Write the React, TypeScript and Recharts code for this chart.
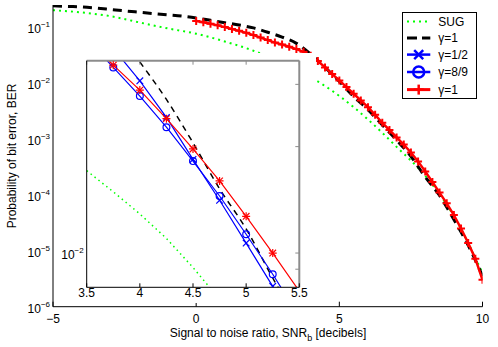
import React from 'react';
import { LineChart, Line, XAxis, YAxis, Legend, ReferenceLine } from 'recharts';

const FONT = '"Liberation Sans", Arial, Helvetica, sans-serif';

// ---- main plot (SNR in dB -> BER) ----
const sugSnr = [-5, -4, -3, -2, -1, 0, 1, 2, 3, 4, 5, 6, 7, 8, 9, 10];
const sugBer = [0.2014, 0.1841, 0.158, 0.1225, 0.0955, 0.0767, 0.0556, 0.038, 0.0229, 0.01274, 0.00589, 0.00224, 7.24e-4, 2.19e-4, 4.17e-5, 3.98e-6];

const refSnr = [-5, -4.5, -4, -3.5, -3, -2.5, -2, -1.5, -1, -0.5, 0, 0.5, 1, 1.5, 2, 2.5, 3, 3.5, 4, 4.5, 5, 5.5, 6, 6.5, 7, 7.5, 8, 8.5, 9, 9.5, 10];
const refBer = [0.2427, 0.236, 0.2307, 0.2203, 0.208, 0.1963, 0.1858, 0.1758, 0.1667, 0.1585, 0.1466, 0.133, 0.1205, 0.1096, 0.0973, 0.0813, 0.0668, 0.0515, 0.0328, 0.0191, 0.0107, 0.00575, 0.00335, 0.00178, 9.55e-4, 4.9e-4, 2.09e-4, 9.77e-5, 3.63e-5, 1.26e-5, 3.55e-6];

const g1Snr = [0, 0.25, 0.5, 0.75, 1, 1.25, 1.5, 1.75, 2, 2.25, 2.5, 2.75, 3, 3.25, 3.5, 3.75, 4, 4.25, 4.5, 4.75, 5, 5.25, 5.5, 5.75, 6, 6.25, 6.5, 6.75, 7, 7.25, 7.5, 7.75, 8, 8.25, 8.5, 8.75, 9, 9.25, 9.5, 9.75, 10];
const g1Ber = [0.1294, 0.1225, 0.1153, 0.1081, 0.1005, 0.0933, 0.0861, 0.0794, 0.0724, 0.0653, 0.0589, 0.0531, 0.049, 0.0447, 0.0407, 0.0363, 0.0309, 0.0248, 0.0191, 0.0145, 0.0112, 0.00851, 0.00646, 0.0049, 0.00372, 0.00272, 0.00195, 0.00145, 0.00107, 7.94e-4, 5.75e-4, 3.98e-4, 2.63e-4, 1.7e-4, 1.1e-4, 7.08e-5, 4.37e-5, 2.51e-5, 1.38e-5, 7.24e-6, 3.02e-6];

// ---- inset ----
const inSugSnr = [3.5, 3.75, 4, 4.25, 4.5, 4.75];
const inSugBer = [0.0171, 0.0149, 0.0129, 0.011, 0.0091, 0.0074];
const inRefSnr = [3.75, 4, 4.25, 4.5, 4.75, 5, 5.25, 5.5];
const inRefBer = [0.0437, 0.0347, 0.0272, 0.0205, 0.0152, 0.0117, 0.0085, 0.0063];
const inSnr = [3.5, 3.75, 4, 4.25, 4.5, 4.75, 5, 5.25, 5.5];
const inHalfBer = [0.049, 0.0379, 0.0307, 0.0242, 0.0184, 0.0141, 0.01067, 0.00805, 0.0059];
const inEightNinthBer = [0.0404, 0.0335, 0.0278, 0.0227, 0.0182, 0.0145, 0.0113, 0.00871, 0.0066];
const inOneBer = [0.04, 0.034, 0.0289, 0.024, 0.0197, 0.016, 0.0127, 0.01, 0.0078];

const mainXTicks = [-5, 0, 5, 10];
const mainYDecades = [1e-6, 1e-5, 1e-4, 1e-3, 1e-2, 1e-1];
const mainXDomain = [-5, 10];
const mainYDomain = [1e-6, 0.25];
const insetXTicks = [3.5, 4, 4.5, 5, 5.5];
const insetYTicks = [0.009, 0.01, 0.02, 0.03];
const insetXDomain = [3.5, 5.5];
const insetYDomain = [0.008, 0.035];

const mainYTicks = mainYDecades
  .flatMap((d) => [1, 2, 3, 4, 5, 6, 7, 8, 9].map((m) => m * d))
  .filter((v) => v <= mainYDomain[1]);

const zip = (xs: number[], ys: number[]) => xs.map((snr, i) => ({ snr, ber: ys[i] }));

const isDecade = (v: number) => Math.abs(Math.log10(v) - Math.round(Math.log10(v))) < 1e-6;
const expLabel = (v: number) => {
  const e = Math.round(Math.log10(v));
  return e < 0 ? '\u2212' + -e : String(e);
};
const numLabel = (v: number) => (v < 0 ? '\u2212' + -v : String(v));

const LeftTick = (p: any) => {
  const { x, y, payload, big = 5, small = 3, stroke = '#000' } = p;
  const dec = isDecade(payload.value);
  return (
    <g>
      <line x1={x} x2={x + (dec ? big : small)} y1={y} y2={y} stroke={stroke} />
      {dec && (
        <text x={x - 3} y={y + 6} textAnchor="end" fontSize={12} fontFamily={FONT} fill="#000">
          10<tspan dy={-6} fontSize={8}>{expLabel(payload.value)}</tspan>
        </text>
      )}
    </g>
  );
};

const RightTick = (p: any) => {
  const { x, y, payload, big = 5, small = 3, stroke = '#000' } = p;
  const dec = isDecade(payload.value);
  return <line x1={x} x2={x - (dec ? big : small)} y1={y} y2={y} stroke={stroke} />;
};

const BottomTick = (p: any) => {
  const { x, y, payload, len = 5, dy = 16 } = p;
  return (
    <g>
      <line x1={x} x2={x} y1={y} y2={y - len} stroke="#000" />
      <text x={x} y={y + dy} textAnchor="middle" fontSize={12} fontFamily={FONT} fill="#000">
        {numLabel(payload.value)}
      </text>
    </g>
  );
};

const TopTick = (p: any) => {
  const { x, y, len = 5, stroke = '#000' } = p;
  return <line x1={x} x2={x} y1={y} y2={y + len} stroke={stroke} />;
};

// inset frame (top and right edges are grey with inward ticks)
const GREY = '#8c8c8c';
const InsetTopEdge = (p: any) => {
  const xa = Math.min(p.x1, p.x2);
  const xb = Math.max(p.x1, p.x2);
  const y = p.y1;
  return (
    <g>
      <line x1={xa} x2={xb} y1={y} y2={y} stroke={GREY} strokeWidth={2} />
      {insetXTicks.map((t) => {
        const x = xa + ((t - insetXDomain[0]) / (insetXDomain[1] - insetXDomain[0])) * (xb - xa);
        return <line key={t} x1={x} x2={x} y1={y} y2={y + 4} stroke={GREY} />;
      })}
    </g>
  );
};
const InsetRightEdge = (p: any) => {
  const ya = Math.min(p.y1, p.y2);
  const yb = Math.max(p.y1, p.y2);
  const x = p.x1;
  const lt = Math.log10(insetYDomain[1]);
  const lb = Math.log10(insetYDomain[0]);
  return (
    <g>
      <line x1={x} x2={x} y1={ya} y2={yb} stroke={GREY} strokeWidth={2} />
      {insetYTicks.map((t) => {
        const y = ya + ((lt - Math.log10(t)) / (lt - lb)) * (yb - ya);
        return <line key={t} x1={x} x2={x - 4} y1={y} y2={y} stroke={GREY} />;
      })}
    </g>
  );
};

const XTitle = () => (
  <text x={268} y={337} textAnchor="middle" fontSize={12} fontFamily={FONT} fill="#000">
    Signal to noise ratio, SNR<tspan dy={4} fontSize={9}>b</tspan>
    <tspan dy={-4}> [decibels]</tspan>
  </text>
);

const YTitle = () => (
  <text
    x={12}
    y={156}
    transform="rotate(-90 12 156)"
    textAnchor="middle"
    dominantBaseline="central"
    fontSize={12}
    fontFamily={FONT}
    fill="#000"
  >
    Probability of bit error, BER
  </text>
);

const inInset = (snr: number, ber: number) =>
  snr >= insetXDomain[0] && snr <= insetXDomain[1] && ber >= insetYDomain[0] && ber <= insetYDomain[1];

const plusDot = (h: number, color: string, sw: number) => (p: any) => {
  const { cx, cy, index } = p;
  if (cx == null || cy == null) return <g key={index} />;
  return (
    <g key={index}>
      <line x1={cx - h} x2={cx + h} y1={cy} y2={cy} stroke={color} strokeWidth={sw} />
      <line x1={cx} x2={cx} y1={cy - h} y2={cy + h} stroke={color} strokeWidth={sw} />
    </g>
  );
};

const insetDot = (kind: 'x' | 'o' | '*', color: string) => (p: any) => {
  const { cx, cy, index, payload } = p;
  if (cx == null || cy == null || !inInset(payload.snr, payload.ber)) return <g key={index} />;
  const h = 3.3;
  if (kind === 'o') return <circle key={index} cx={cx} cy={cy} r={3.4} fill="none" stroke={color} strokeWidth={1.2} />;
  const cross = (
    <>
      <line x1={cx - h} x2={cx + h} y1={cy - h} y2={cy + h} stroke={color} strokeWidth={1.2} />
      <line x1={cx - h} x2={cx + h} y1={cy + h} y2={cy - h} stroke={color} strokeWidth={1.2} />
    </>
  );
  if (kind === 'x') return <g key={index}>{cross}</g>;
  return (
    <g key={index}>
      {cross}
      <line x1={cx - 4} x2={cx + 4} y1={cy} y2={cy} stroke={color} strokeWidth={1.2} />
      <line x1={cx} x2={cx} y1={cy - 4} y2={cy + 4} stroke={color} strokeWidth={1.2} />
    </g>
  );
};

const legendRows = [
  { label: 'SUG', color: '#00ff00', dash: '2 4', w: 2, marker: '' },
  { label: '\u03b3=1', color: '#000', dash: '10 5', w: 3, marker: '' },
  { label: '\u03b3=1/2', color: '#0000ff', dash: '', w: 2.5, marker: 'x' },
  { label: '\u03b3=8/9', color: '#0000ff', dash: '', w: 2.5, marker: 'o' },
  { label: '\u03b3=1', color: '#ff0000', dash: '', w: 3, marker: '+' },
];
const legendRowY = [9.6, 26, 42.6, 60, 77.6];

const LegendBox = () => (
  <svg width={75} height={87} style={{ display: 'block' }}>
    <rect x={0.5} y={0.5} width={74} height={86} fill="#fff" stroke="#000" />
    {legendRows.map((r, i) => {
      const y = legendRowY[i];
      const mx = 16.7;
      return (
        <g key={i}>
          <line x1={5} x2={28.3} y1={y} y2={y} stroke={r.color} strokeWidth={r.w} strokeDasharray={r.dash || undefined} />
          {r.marker === 'x' && (
            <g stroke={r.color} strokeWidth={2.5}>
              <line x1={mx - 4.5} x2={mx + 4.5} y1={y - 4.5} y2={y + 4.5} />
              <line x1={mx - 4.5} x2={mx + 4.5} y1={y + 4.5} y2={y - 4.5} />
            </g>
          )}
          {r.marker === 'o' && <circle cx={mx} cy={y} r={5.5} fill="none" stroke={r.color} strokeWidth={2.5} />}
          {r.marker === '+' && (
            <g stroke={r.color} strokeWidth={2.5}>
              <line x1={mx - 5} x2={mx + 5} y1={y} y2={y} />
              <line x1={mx} x2={mx} y1={y - 5} y2={y + 5} />
            </g>
          )}
          <text x={36.3} y={y + 4.3} fontSize={12} fontFamily={FONT} fill="#000">
            {r.label}
          </text>
        </g>
      );
    })}
  </svg>
);

export default function App() {
  return (
    <div style={{ position: 'absolute', left: 0, top: 0, width: 498, height: 347, background: '#fff' }}>
      <LineChart width={498} height={347} margin={{ top: 5, right: 15.5, bottom: 0, left: 0 }}>
        <XAxis
          xAxisId="b"
          type="number"
          dataKey="snr"
          domain={mainXDomain}
          ticks={mainXTicks}
          interval={0}
          allowDataOverflow
          height={40.3}
          tickSize={0}
          tickMargin={0}
          tickLine={false}
          axisLine={{ stroke: '#000' }}
          tick={<BottomTick />}
          label={<XTitle />}
        />
        <XAxis
          xAxisId="t"
          orientation="top"
          type="number"
          dataKey="snr"
          domain={mainXDomain}
          ticks={mainXTicks}
          interval={0}
          allowDataOverflow
          height={0}
          tickSize={0}
          tickMargin={0}
          tickLine={false}
          axisLine={{ stroke: '#000' }}
          tick={<TopTick stroke="#666" />}
        />
        <YAxis
          yAxisId="l"
          type="number"
          scale="log"
          dataKey="ber"
          domain={mainYDomain}
          ticks={mainYTicks}
          interval={0}
          allowDataOverflow
          width={53}
          tickSize={0}
          tickMargin={0}
          tickLine={false}
          axisLine={{ stroke: '#000' }}
          tick={<LeftTick />}
          label={<YTitle />}
        />
        <YAxis
          yAxisId="r"
          orientation="right"
          type="number"
          scale="log"
          dataKey="ber"
          domain={mainYDomain}
          ticks={mainYTicks}
          interval={0}
          allowDataOverflow
          width={0}
          tickSize={0}
          tickMargin={0}
          tickLine={false}
          axisLine={{ stroke: '#000' }}
          tick={<RightTick />}
        />
        <Line
          xAxisId="b"
          yAxisId="l"
          data={zip(sugSnr, sugBer)}
          dataKey="ber"
          type="monotone"
          stroke="#00ff00"
          strokeWidth={2}
          strokeDasharray="2 4"
          dot={false}
          isAnimationActive={false}
        />
        <Line
          xAxisId="b"
          yAxisId="l"
          data={zip(refSnr, refBer)}
          dataKey="ber"
          type="monotone"
          stroke="#000"
          strokeWidth={3}
          strokeDasharray="9 6"
          dot={false}
          isAnimationActive={false}
        />
        <Line
          xAxisId="b"
          yAxisId="l"
          data={zip(g1Snr, g1Ber)}
          dataKey="ber"
          type="linear"
          stroke="#ff0000"
          strokeWidth={2.5}
          dot={plusDot(4, '#ff0000', 2)}
          isAnimationActive={false}
        />
        <Legend
          layout="vertical"
          align="center"
          verticalAlign="middle"
          content={<LegendBox />}
          wrapperStyle={{ position: 'absolute', left: 401.5, top: 11.5, width: 75, height: 87 }}
        />
      </LineChart>

      <div style={{ position: 'absolute', left: 56, top: 53, width: 260, height: 250, background: '#fff' }}>
        <LineChart width={260} height={250} margin={{ top: 7.7, right: 16.7, bottom: 0, left: 0 }}>
          <XAxis
            xAxisId="b"
            type="number"
            dataKey="snr"
            domain={insetXDomain}
            ticks={insetXTicks}
            interval={0}
            allowDataOverflow
            height={15.7}
            tickSize={0}
            tickMargin={0}
            tickLine={false}
            axisLine={{ stroke: '#000' }}
            tick={<BottomTick len={4} dy={9.5} />}
          />
          <YAxis
            yAxisId="l"
            type="number"
            scale="log"
            dataKey="ber"
            domain={insetYDomain}
            ticks={insetYTicks}
            interval={0}
            allowDataOverflow
            width={30.7}
            tickSize={0}
            tickMargin={0}
            tickLine={false}
            axisLine={{ stroke: '#000' }}
            tick={<LeftTick big={4} small={4} />}
          />
          <Line
            xAxisId="b"
            yAxisId="l"
            data={zip(inSugSnr, inSugBer)}
            dataKey="ber"
            type="linear"
            stroke="#00ff00"
            strokeWidth={1.5}
            strokeDasharray="1.5 3.5"
            dot={false}
            isAnimationActive={false}
          />
          <Line
            xAxisId="b"
            yAxisId="l"
            data={zip(inRefSnr, inRefBer)}
            dataKey="ber"
            type="monotone"
            stroke="#000"
            strokeWidth={1.5}
            strokeDasharray="6 5"
            dot={false}
            isAnimationActive={false}
          />
          <Line
            xAxisId="b"
            yAxisId="l"
            data={zip(inSnr, inHalfBer)}
            dataKey="ber"
            type="linear"
            stroke="#0000ff"
            strokeWidth={1.2}
            dot={insetDot('x', '#0000ff')}
            isAnimationActive={false}
          />
          <Line
            xAxisId="b"
            yAxisId="l"
            data={zip(inSnr, inEightNinthBer)}
            dataKey="ber"
            type="linear"
            stroke="#0000ff"
            strokeWidth={1.2}
            dot={insetDot('o', '#0000ff')}
            isAnimationActive={false}
          />
          <Line
            xAxisId="b"
            yAxisId="l"
            data={zip(inSnr, inOneBer)}
            dataKey="ber"
            type="linear"
            stroke="#ff0000"
            strokeWidth={1.2}
            dot={insetDot('*', '#ff0000')}
            isAnimationActive={false}
          />
          <ReferenceLine xAxisId="b" yAxisId="l" y={insetYDomain[1]} ifOverflow="visible" shape={InsetTopEdge} />
          <ReferenceLine xAxisId="b" yAxisId="l" x={insetXDomain[1]} ifOverflow="visible" shape={InsetRightEdge} />
        </LineChart>
      </div>
    </div>
  );
}
